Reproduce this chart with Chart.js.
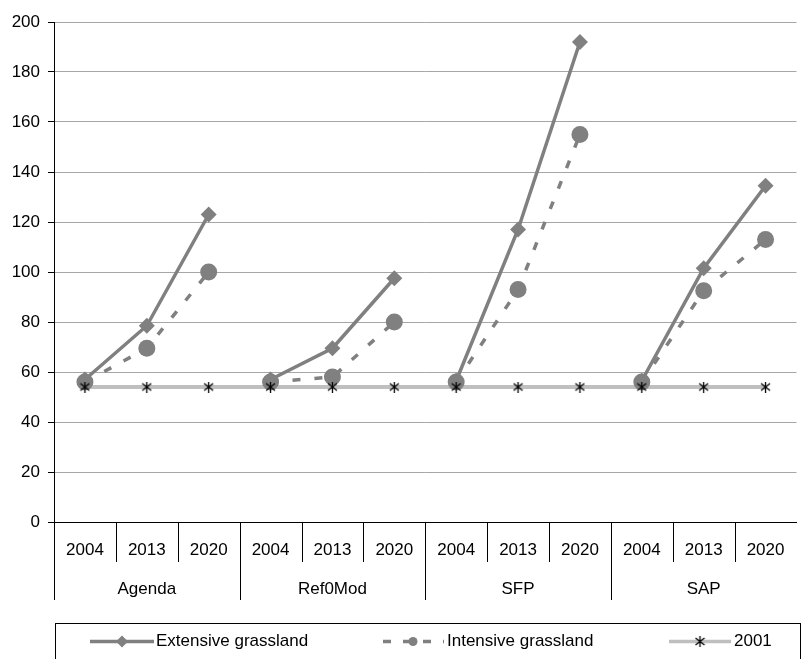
<!DOCTYPE html>
<html>
<head>
<meta charset="utf-8">
<script src="https://cdn.jsdelivr.net/npm/chart.js@4/dist/chart.umd.min.js"></script>
<style>
html,body{margin:0;padding:0;background:#fff;}
#c{display:block;}
</style>
</head>
<body>
<canvas id="c" width="805" height="659"></canvas>
<script>
const groups = ['Agenda', 'Ref0Mod', 'SFP', 'SAP'];
const years = ['2004', '2013', '2020'];
const extensive = [57, 78.5, 123, 57, 69.5, 97.5, 56.5, 117, 192, 56.5, 101.5, 134.5];
const intensive = [56, 69.5, 100, 56, 58, 80, 56, 93, 155, 56, 92.5, 113];
const base2001 = [54, 54, 54, 54, 54, 54, 54, 54, 54, 54, 54, 54];
const yTicks = [0, 20, 40, 60, 80, 100, 120, 140, 160, 180, 200];
const seriesNames = ['Extensive grassland', 'Intensive grassland', '2001'];

const labels = [];
groups.forEach(() => years.forEach(y => labels.push(y)));

const FONT = '"Liberation Sans", Arial, sans-serif';
const FS = 17;
const GRAY = '#808080';
const LIGHT = '#bfbfbf';

function makeStar(size) {
  const cv = document.createElement('canvas');
  cv.width = size; cv.height = size;
  const c = cv.getContext('2d');
  c.strokeStyle = '#000';
  c.lineWidth = 1.3;
  const m = 1, s = size - 1;
  c.beginPath();
  c.moveTo(m, m + 1); c.lineTo(s, s - 1);
  c.moveTo(s, m + 1); c.lineTo(m, s - 1);
  c.moveTo(size / 2, m - 1); c.lineTo(size / 2, s + 1);
  c.stroke();
  return cv;
}
const star = makeStar(11);

const hideGap = ctx => (ctx.p0DataIndex % 3 === 2 ? 'rgba(0,0,0,0)' : undefined);

const overlay = {
  id: 'overlay',
  afterDraw(chart) {
    const ctx = chart.ctx;
    const xs = chart.scales.x;
    const ca = chart.chartArea;
    const w = (ca.right - ca.left) / labels.length;
    ctx.save();
    ctx.strokeStyle = '#000';
    ctx.lineWidth = 1;
    for (let i = 0; i < labels.length; i++) {
      const x = Math.round(ca.left + i * w) + 0.5;
      ctx.beginPath();
      ctx.moveTo(x, ca.bottom);
      ctx.lineTo(x, i % 3 === 0 ? 600 : 562);
      ctx.stroke();
    }
    ctx.fillStyle = '#000';
    ctx.font = FS + 'px ' + FONT;
    ctx.textAlign = 'center';
    ctx.textBaseline = 'middle';
    groups.forEach((g, gi) => {
      const cx = (xs.getPixelForValue(gi * 3) + xs.getPixelForValue(gi * 3 + 2)) / 2;
      ctx.fillText(g, cx, 589);
    });
    // legend box
    ctx.strokeStyle = '#000';
    ctx.strokeRect(55.5, 623.5, 745, 60);
    const ly = 641.5;
    ctx.textAlign = 'left';
    // extensive
    ctx.strokeStyle = GRAY; ctx.lineWidth = 3.5; ctx.setLineDash([]);
    ctx.beginPath(); ctx.moveTo(90, ly); ctx.lineTo(154, ly); ctx.stroke();
    ctx.fillStyle = GRAY;
    ctx.beginPath(); ctx.moveTo(122, ly - 6); ctx.lineTo(128, ly); ctx.lineTo(122, ly + 6); ctx.lineTo(116, ly); ctx.closePath(); ctx.fill();
    ctx.fillStyle = '#000';
    ctx.fillText(seriesNames[0], 156, ly);
    // intensive
    ctx.strokeStyle = GRAY; ctx.lineWidth = 3.5; ctx.setLineDash([8, 12]);
    ctx.beginPath(); ctx.moveTo(383, ly); ctx.lineTo(444, ly); ctx.stroke();
    ctx.setLineDash([]);
    ctx.fillStyle = GRAY;
    ctx.beginPath(); ctx.arc(413, ly, 4.5, 0, Math.PI * 2); ctx.fill();
    ctx.fillStyle = '#000';
    ctx.fillText(seriesNames[1], 447, ly);
    // 2001
    ctx.strokeStyle = LIGHT; ctx.lineWidth = 3.5;
    ctx.beginPath(); ctx.moveTo(669, ly); ctx.lineTo(731, ly); ctx.stroke();
    ctx.drawImage(star, 700 - 5.5, ly - 5.5);
    ctx.fillStyle = '#000';
    ctx.fillText(seriesNames[2], 734, ly);
    ctx.restore();
  }
};

new Chart(document.getElementById('c'), {
  type: 'line',
  data: {
    labels: labels,
    datasets: [
      {
        label: seriesNames[2] + ' markers',
        data: base2001,
        showLine: false,
        pointStyle: star,
        pointRadius: 5,
        order: 0
      },
      {
        label: seriesNames[0],
        data: extensive,
        borderColor: GRAY,
        backgroundColor: GRAY,
        borderWidth: 3.5,
        pointStyle: 'rectRot',
        pointRadius: 8,
        pointBorderWidth: 0,
        segment: { borderColor: hideGap },
        order: 1
      },
      {
        label: seriesNames[1],
        data: intensive,
        borderColor: GRAY,
        backgroundColor: GRAY,
        borderWidth: 3.5,
        borderDash: [8, 14],
        pointStyle: 'circle',
        pointRadius: 8.5,
        pointBorderWidth: 0,
        segment: { borderColor: hideGap },
        order: 2
      },
      {
        label: seriesNames[2],
        data: base2001,
        borderColor: LIGHT,
        backgroundColor: LIGHT,
        borderWidth: 4,
        pointRadius: 0,
        order: 3
      }
    ]
  },
  options: {
    responsive: false,
    devicePixelRatio: 1,
    animation: false,
    events: [],
    layout: { padding: { top: 22, right: 5, left: 0, bottom: 0 } },
    plugins: { legend: { display: false }, tooltip: { enabled: false } },
    scales: {
      x: {
        type: 'category',
        offset: true,
        grid: { display: true, drawOnChartArea: false, drawTicks: false },
        border: { display: true, color: '#000', width: 1 },
        ticks: { color: '#000', font: { family: FONT, size: FS }, padding: 18, maxRotation: 0, autoSkip: false },
        afterFit(s) { s.height = 137; }
      },
      y: {
        min: 0, max: 200,
        afterBuildTicks(s) { s.ticks = yTicks.map(v => ({ value: v })); },
        grid: { color: '#a6a6a6', tickColor: '#000', tickLength: 6, lineWidth: 1 },
        border: { display: true, color: '#000', width: 1 },
        ticks: { color: '#000', font: { family: FONT, size: FS }, padding: 8 },
        afterFit(s) { s.width = 54; }
      }
    }
  },
  plugins: [overlay]
});
</script>
</body>
</html>
